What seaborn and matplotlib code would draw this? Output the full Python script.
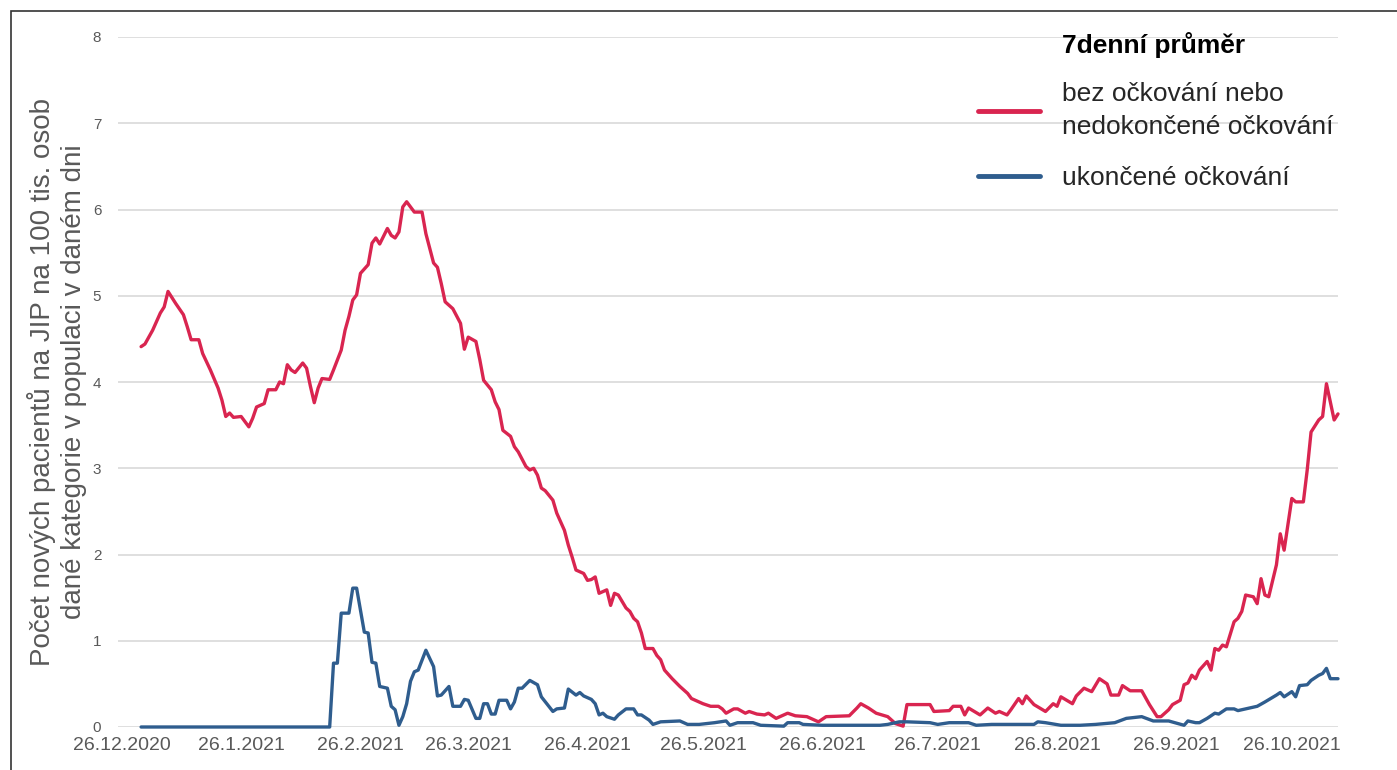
import pandas as pd
import matplotlib.pyplot as plt
import seaborn as sns
from matplotlib.lines import Line2D
from matplotlib.patches import Rectangle

# Days counted from 26.12.2020
start = pd.Timestamp("2020-12-26")

red_day = [5, 6, 8, 9, 10, 11, 12, 14, 16, 17, 18, 20, 21, 23, 25, 26, 27, 28, 29, 31,
           33, 34, 35, 37, 38, 40, 41, 42, 43, 44, 45, 47, 48, 49, 50, 51, 52, 54, 55, 57,
           58, 59, 60, 61, 62, 64, 65, 66, 67, 69, 70, 71, 72, 73, 74, 75, 76, 78, 79, 81,
           82, 83, 84, 86, 88, 89, 90, 92, 93, 94, 96, 97, 98, 99, 101, 102, 103, 105, 106, 107,
           108, 109, 110, 112, 113, 115, 116, 117, 118, 120, 121, 122, 123, 124, 126, 127, 128, 129, 131, 132,
           133, 134, 135, 136, 138, 139, 140, 141, 143, 145, 147, 148, 151, 153, 155, 156, 157, 159, 160, 162,
           163, 165, 167, 168, 170, 172, 173, 175, 178, 181, 183, 189, 191, 192, 194, 196, 199, 201, 203, 204,
           210, 211, 215, 216, 218, 219, 220, 223, 225, 227, 228, 230, 231, 233, 234, 235, 237, 240, 242, 243,
           244, 247, 248, 250, 252, 254, 256, 257, 259, 260, 262, 265, 267, 269, 270, 272, 273, 275, 276, 277,
           278, 279, 280, 282, 283, 284, 285, 286, 287, 289, 290, 291, 292, 294, 295, 296, 297, 298, 300, 301,
           302, 304, 305, 307, 308, 309, 311, 312, 313, 315, 316]
red_val = [4.41, 4.44, 4.60, 4.70, 4.80, 4.87, 5.05, 4.91, 4.78, 4.64, 4.49, 4.49, 4.33, 4.14, 3.93, 3.79, 3.60, 3.64, 3.59, 3.60,
           3.48, 3.58, 3.71, 3.75, 3.91, 3.91, 4.00, 3.98, 4.20, 4.14, 4.11, 4.22, 4.16, 3.95, 3.76, 3.93, 4.04, 4.03, 4.14, 4.37,
           4.60, 4.76, 4.95, 5.01, 5.26, 5.36, 5.61, 5.67, 5.60, 5.78, 5.70, 5.67, 5.74, 6.03, 6.09, 6.03, 5.97, 5.97, 5.72, 5.38,
           5.33, 5.14, 4.93, 4.85, 4.68, 4.38, 4.52, 4.47, 4.26, 4.02, 3.91, 3.77, 3.68, 3.44, 3.37, 3.25, 3.19, 3.02, 2.98, 3.00,
           2.92, 2.77, 2.74, 2.63, 2.48, 2.28, 2.11, 1.97, 1.82, 1.78, 1.70, 1.71, 1.74, 1.55, 1.59, 1.41, 1.55, 1.53, 1.38, 1.34,
           1.26, 1.22, 1.09, 0.91, 0.91, 0.83, 0.78, 0.66, 0.56, 0.47, 0.39, 0.33, 0.27, 0.24, 0.24, 0.21, 0.16, 0.21, 0.21, 0.16,
           0.18, 0.15, 0.14, 0.16, 0.10, 0.14, 0.16, 0.13, 0.12, 0.06, 0.12, 0.13, 0.22, 0.27, 0.22, 0.16, 0.12, 0.04, 0.01, 0.26,
           0.26, 0.18, 0.19, 0.24, 0.24, 0.14, 0.22, 0.14, 0.22, 0.16, 0.18, 0.14, 0.20, 0.33, 0.27, 0.36, 0.26, 0.18, 0.27, 0.24,
           0.35, 0.27, 0.36, 0.45, 0.41, 0.56, 0.50, 0.37, 0.37, 0.48, 0.42, 0.42, 0.26, 0.12, 0.12, 0.20, 0.26, 0.31, 0.49, 0.51,
           0.60, 0.56, 0.66, 0.76, 0.66, 0.91, 0.89, 0.95, 0.93, 1.22, 1.26, 1.34, 1.53, 1.51, 1.43, 1.72, 1.53, 1.51, 1.88, 2.24,
           2.05, 2.65, 2.61, 2.61, 2.98, 3.42, 3.56, 3.60, 3.98, 3.56, 3.63]

blue_day = [5, 54, 55, 56, 57, 59, 60, 61, 63, 64, 65, 66, 67, 69, 70, 71, 72, 73, 74, 75,
            76, 77, 79, 81, 82, 83, 85, 86, 88, 89, 90, 92, 93, 94, 95, 96, 97, 98, 100, 101,
            102, 103, 104, 106, 108, 109, 112, 113, 115, 116, 118, 119, 120, 122, 123, 124, 125, 126, 128, 129,
            131, 133, 134, 135, 137, 138, 140, 145, 147, 150, 152, 154, 157, 158, 160, 164, 166, 172, 173, 176,
            177, 182, 197, 199, 202, 204, 210, 212, 215, 220, 222, 226, 237, 238, 240, 244, 249, 253, 258, 261,
            265, 268, 272, 276, 277, 279, 280, 282, 284, 285, 287, 289, 290, 293, 295, 297, 300, 301, 302, 304,
            305, 306, 308, 309, 311, 312, 313, 314, 316]
blue_val = [0, 0, 0.74, 0.74, 1.32, 1.32, 1.61, 1.61, 1.10, 1.09, 0.75, 0.74, 0.47, 0.45, 0.24, 0.20, 0.02, 0.12, 0.27, 0.53,
            0.64, 0.66, 0.89, 0.70, 0.36, 0.37, 0.47, 0.24, 0.24, 0.32, 0.31, 0.10, 0.10, 0.27, 0.27, 0.15, 0.15, 0.31, 0.31, 0.21,
            0.29, 0.45, 0.45, 0.54, 0.49, 0.35, 0.18, 0.21, 0.22, 0.44, 0.37, 0.40, 0.36, 0.32, 0.27, 0.14, 0.16, 0.12, 0.09, 0.14,
            0.21, 0.21, 0.14, 0.14, 0.08, 0.03, 0.06, 0.07, 0.03, 0.03, 0.04, 0.05, 0.07, 0.02, 0.05, 0.05, 0.02, 0.01, 0.05, 0.05,
            0.03, 0.02, 0.02, 0.03, 0.06, 0.06, 0.05, 0.03, 0.05, 0.05, 0.02, 0.03, 0.03, 0.06, 0.05, 0.02, 0.02, 0.03, 0.05, 0.10,
            0.12, 0.07, 0.07, 0.02, 0.07, 0.05, 0.05, 0.10, 0.16, 0.15, 0.21, 0.21, 0.19, 0.22, 0.24, 0.29, 0.37, 0.40, 0.35, 0.41,
            0.35, 0.48, 0.49, 0.54, 0.60, 0.62, 0.68, 0.56, 0.56]

label_red = "bez očkování nebo\nnedokončené očkování"
label_blue = "ukončené očkování"
legend_title = "7denní průměr"
ylabel = "Počet nových pacientů na JIP na 100 tis. osob\ndané kategorie v populaci v daném dni"

red = "#d92550"
blue = "#2f5d8e"
grey = "#595959"

df = pd.concat([
    pd.DataFrame({"date": start + pd.to_timedelta(red_day, unit="D"), "value": red_val, "series": label_red}),
    pd.DataFrame({"date": start + pd.to_timedelta(blue_day, unit="D"), "value": blue_val, "series": label_blue}),
])

sns.set_theme(style="white")
plt.rcParams["font.family"] = ["Liberation Sans", "DejaVu Sans"]

fig, ax = plt.subplots(figsize=(13.97, 7.70), dpi=100)
fig.subplots_adjust(left=118/1397, right=1338/1397, bottom=1-727/770, top=1-37/770)

sns.lineplot(data=df, x="date", y="value", hue="series", palette=[red, blue],
             linewidth=2.4, ax=ax, legend=False)
for ln in ax.lines:
    ln.set_clip_on(False)

ax.set_ylim(0, 8)
ax.set_yticks(range(9))
ax.set_xlim(start - pd.Timedelta(days=1), start + pd.Timedelta(days=316))

ticks = [start + pd.DateOffset(months=i) for i in range(11)]
ax.set_xticks(ticks)
ax.set_xticklabels([f"{d.day}.{d.month}.{d.year}" for d in ticks])

ax.grid(axis="y", color="#d9d9d9", linewidth=1.2)
ax.set_axisbelow(True)
sns.despine(ax=ax, left=True, bottom=True)
ax.tick_params(axis="y", labelsize=11, colors=grey, length=0, pad=12)
ax.tick_params(axis="x", labelsize=14, colors=grey, length=0, pad=7)

ax.set_xlabel("")
ax.set_ylabel(ylabel, fontsize=20, color=grey, linespacing=1.25, va="center")
ax.yaxis.set_label_coords(-0.0496, 0.5)

# legend
handles = [Line2D([], [], color=red, lw=3.5), Line2D([], [], color=blue, lw=3.5)]
leg = ax.legend(handles, [label_red, label_blue], loc="upper left",
                bbox_to_anchor=(978/1397, 1-82/770), bbox_transform=fig.transFigure,
                frameon=False, fontsize=19, handlelength=2.35, handletextpad=0.85,
                labelspacing=1.0, borderpad=0, borderaxespad=0)
for t in leg.get_texts():
    t.set_linespacing(1.5)
fig.text(1062/1397, 1-45/770, legend_title, fontsize=19, fontweight="bold",
         color="black", ha="left", va="center")

# frame around the picture
fig.add_artist(Rectangle((11/1397, -0.1), 1.2, 1-11/770+0.1, transform=fig.transFigure,
                         fill=False, edgecolor="#333333", linewidth=1.2))

fig.savefig("out.png", dpi=100)
